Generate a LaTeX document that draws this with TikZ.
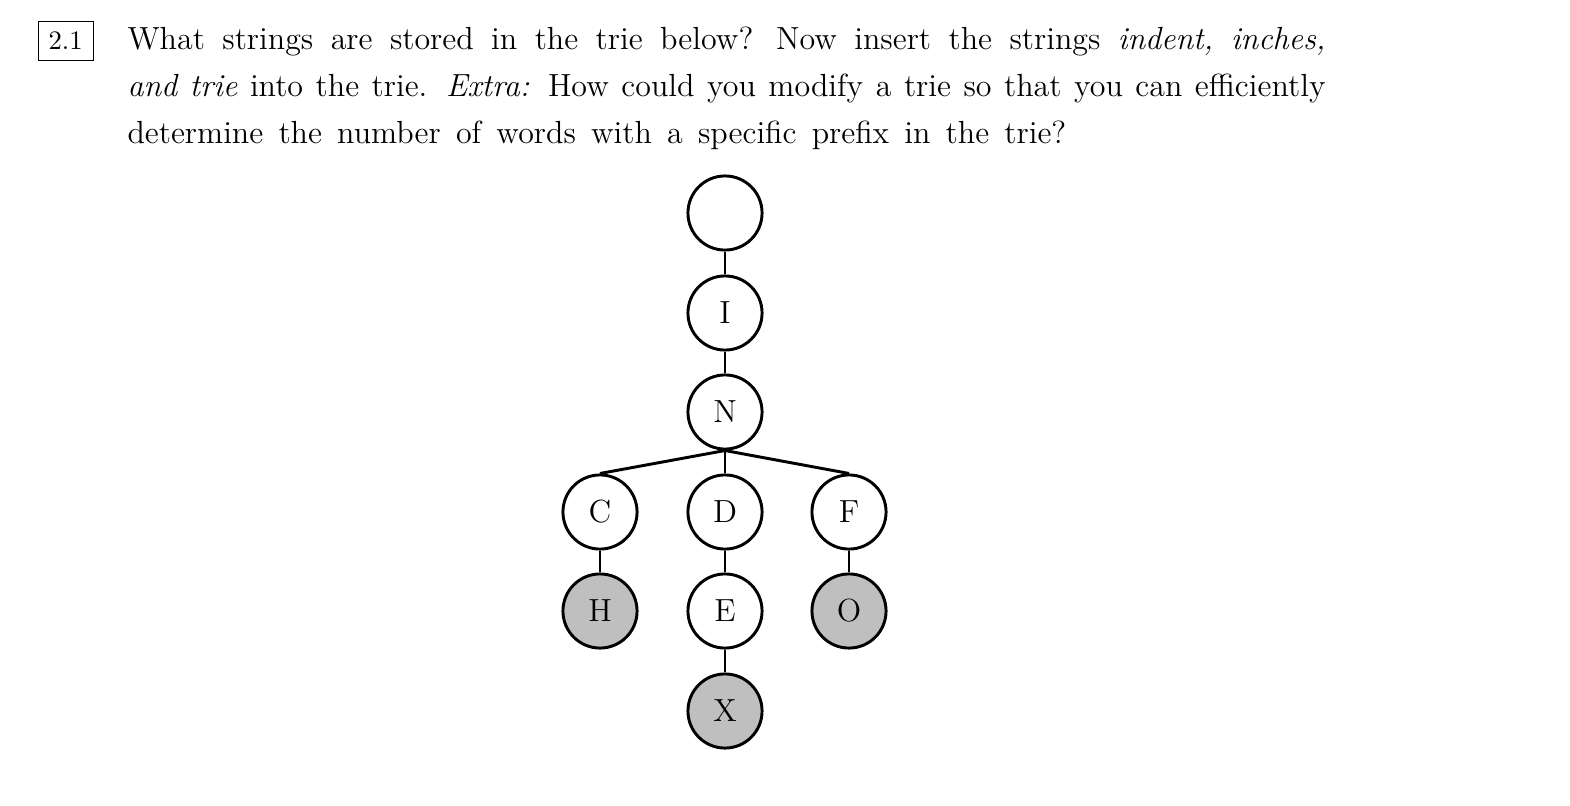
\documentclass[tikz,border=0pt]{standalone}
\usepackage{tikz}

\tikzset{
  trienode/.style={draw, circle, line width=1.1pt, minimum size=27.8pt, inner sep=0pt, font=\fontsize{12pt}{17.6pt}\selectfont},
  endnode/.style={trienode, fill=gray!50},
  trieedge/.style={line width=1.1pt}
}

\begin{document}
\begin{tikzpicture}[x=0.375pt, y=-0.375pt]
  \useasboundingbox (0,0) rectangle (1570,806);

  % question
  \node[draw, line width=0.4pt, inner sep=3.9pt, anchor=base, font=\fontsize{10pt}{12pt}\selectfont] (num) at (65.7,50) {2.1};
  \node[anchor=base west, inner sep=0pt, text width=449.25pt, align=justify,
        font=\fontsize{12pt}{17.625pt}\selectfont] (question) at (127,50)
    {\spaceskip=5.7pt plus 2.5pt minus 2pt\relax
     \xspaceskip=7.5pt plus 3pt minus 1pt\relax
     What strings are stored in the trie below? Now insert the strings \emph{indent, inches,}\linebreak
     \emph{and trie} into the trie. \emph{Extra:} How could you modify a trie so that you can efficiently\linebreak
     determine the number of words with a specific prefix in the trie?};

  % the trie
  \node[trienode] (root) at (725,213) {};
  \node[trienode] (i) at (725,313) {I};
  \node[trienode] (n) at (725,412) {N};
  \node[trienode] (c) at (600,512) {C};
  \node[trienode] (d) at (725,512) {D};
  \node[trienode] (f) at (849,512) {F};
  \node[endnode] (h) at (600,611) {H};
  \node[trienode] (e) at (725,611) {E};
  \node[endnode] (o) at (849,611) {O};
  \node[endnode] (x) at (725,711) {X};

  \draw[trieedge] (root) -- (i);
  \draw[trieedge] (i) -- (n);
  \draw[trieedge] (n.south) -- (c.north);
  \draw[trieedge] (n.south) -- (d.north);
  \draw[trieedge] (n.south) -- (f.north);
  \draw[trieedge] (c) -- (h);
  \draw[trieedge] (d) -- (e);
  \draw[trieedge] (e) -- (x);
  \draw[trieedge] (f) -- (o);
\end{tikzpicture}
\end{document}
